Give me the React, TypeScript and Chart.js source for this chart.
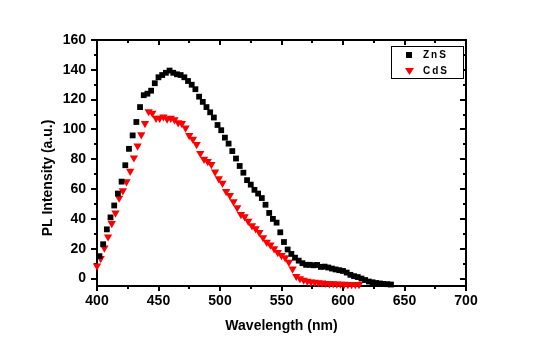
import React, { useEffect, useRef } from 'react';
import { Chart, registerables } from 'chart.js';

Chart.register(...registerables);

const seriesNames = ['ZnS', 'CdS'];
const xTitle = 'Wavelength (nm)';
const yTitle = 'PL Intensity (a.u.)';

const xTicks = [400, 450, 500, 550, 600, 650, 700];
const xMinorTicks = [425, 475, 525, 575, 625, 675];
const yTicks = [0, 20, 40, 60, 80, 100, 120, 140, 160];
const yMinorTicks = [10, 30, 50, 70, 90, 110, 130, 150];

const znsWavelength = [
  402, 405, 408, 411, 414, 417, 420, 423, 426, 429, 432, 435, 438, 441, 444, 447, 450, 453, 456, 459,
  462, 465, 468, 471, 474, 477, 480, 483, 486, 489, 492, 495, 498, 501, 504, 507, 510, 513, 516, 519,
  522, 525, 528, 531, 534, 537, 540, 543, 546, 549, 552, 555, 558, 561, 564, 567, 570, 573, 576, 579,
  582, 585, 588, 591, 594, 597, 600, 603, 606, 609, 612, 615, 618, 621, 624, 627, 630, 633, 636, 639,
];
const znsIntensity = [
  15, 23, 33, 41, 49, 57, 65, 76, 87, 96, 105, 115, 123, 124, 126, 131, 135, 136.5, 138, 139.5,
  138, 137, 136.5, 135, 132.5, 130, 127, 122, 118.5, 115, 111.5, 108, 103, 99.5, 94.5, 90.5, 85.5, 80.5, 75.5, 71,
  66, 63, 59.5, 57, 54, 49.5, 44, 40, 37.5, 31, 24.5, 19.5, 16.5, 14, 12, 10.3, 9.2, 9.2, 8.9, 9.1,
  7.8, 8, 7.4, 6.7, 6.1, 5.6, 5.1, 4, 2.5, 1.6, 1, 0, -1, -2, -2.5, -3, -3.3, -3.6, -3.8, -4,
];

const cdsWavelength = [
  400, 403, 406, 409, 412, 415, 418, 421, 424, 427, 430, 433, 436, 439, 442, 445, 448, 451, 454, 457,
  460, 463, 466, 469, 472, 475, 478, 481, 484, 487, 490, 493, 496, 499, 502, 505, 508, 511, 514, 517,
  520, 523, 526, 529, 532, 535, 538, 541, 544, 547, 550, 553, 556, 559, 562, 565, 568, 571, 574, 577,
  580, 583, 586, 589, 592, 595, 598, 601, 604, 607, 610, 613,
];
const cdsIntensity = [
  8.5, 13.5, 20.5, 28, 37, 44, 54, 59, 65, 72, 81, 89, 96.5, 104, 112, 111, 107.5, 107.5, 108.5, 107,
  107.5, 106.5, 104.5, 104, 101, 96, 93.5, 90, 84, 80, 78.5, 76.5, 71.5, 67, 64, 58.5, 55.8, 51.5, 47.5, 43,
  41.5, 38.5, 35.5, 33.5, 31, 27.5, 24.4, 22.5, 20, 17.5, 15.5, 14, 11, 6.5, 1.5, 0, -1, -1.8, -2.2, -2.5,
  -2.8, -3, -3.2, -3.4, -3.5, -3.6, -3.7, -3.8, -3.9, -4, -4, -4,
];

const FONT = '"Liberation Sans", Arial, sans-serif';

const framePlugin = {
  id: 'originFrame',
  beforeDatasetsDraw(chart: any) {
    const { ctx, chartArea } = chart;
    const { left, right, top, bottom } = chartArea;
    const x = chart.scales.x;
    const y = chart.scales.y;
    ctx.save();
    ctx.strokeStyle = '#000';
    ctx.lineWidth = 2;
    ctx.strokeRect(left, top, right - left, bottom - top);
    ctx.beginPath();
    const xt = (vals: number[], len: number) => {
      vals.forEach((v) => {
        const px = Math.round(x.getPixelForValue(v));
        ctx.moveTo(px, bottom);
        ctx.lineTo(px, bottom + len);
        ctx.moveTo(px, top);
        ctx.lineTo(px, top + len);
      });
    };
    const yt = (vals: number[], len: number) => {
      vals.forEach((v) => {
        const py = Math.round(y.getPixelForValue(v));
        ctx.moveTo(left, py);
        ctx.lineTo(left - len, py);
        ctx.moveTo(right, py);
        ctx.lineTo(right - len, py);
      });
    };
    xt(xTicks, 5);
    xt(xMinorTicks, 3);
    yt(yTicks, 6);
    yt(yMinorTicks, 3);
    ctx.stroke();

    // axis titles
    ctx.fillStyle = '#000';
    ctx.font = `bold 14px ${FONT}`;
    ctx.textAlign = 'center';
    ctx.textBaseline = 'middle';
    ctx.fillText(xTitle, (left + right) / 2, 326);
    ctx.translate(48, 178);
    ctx.rotate(-Math.PI / 2);
    ctx.fillText(yTitle, 0, 0);
    ctx.restore();
  },
  afterDatasetsDraw(chart: any) {
    const { ctx } = chart;
    ctx.save();
    ctx.fillStyle = '#fff';
    ctx.fillRect(391, 46, 73, 33);
    ctx.strokeStyle = '#000';
    ctx.lineWidth = 1;
    ctx.strokeRect(391.5, 46.5, 72, 32);
    // markers
    ctx.fillStyle = '#000';
    ctx.fillRect(406, 52, 6, 6);
    ctx.fillStyle = '#ff0000';
    ctx.beginPath();
    ctx.moveTo(405, 68);
    ctx.lineTo(414, 68);
    ctx.lineTo(409.5, 75);
    ctx.closePath();
    ctx.fill();
    // labels
    ctx.fillStyle = '#000';
    ctx.font = `bold 10px ${FONT}`;
    (ctx as any).letterSpacing = '2px';
    ctx.textAlign = 'left';
    ctx.textBaseline = 'middle';
    ctx.fillText(seriesNames[0], 423, 55.5);
    ctx.fillText(seriesNames[1], 423, 71.5);
    ctx.restore();
  },
};

export default function App() {
  const ref = useRef<HTMLCanvasElement>(null);
  useEffect(() => {
    if (!ref.current) return;
    const tickFont = { family: FONT, weight: 'bold' as const, size: 14 };
    const chart = new Chart(ref.current, {
      type: 'scatter',
      data: {
        datasets: [
          {
            label: seriesNames[0],
            data: znsWavelength.map((w, i) => ({ x: w, y: znsIntensity[i] })),
            pointStyle: 'rect',
            pointRadius: 4.1,
            pointHoverRadius: 4.1,
            backgroundColor: '#000',
            borderColor: '#000',
            borderWidth: 0,
            clip: false as any,
          },
          {
            label: seriesNames[1],
            data: cdsWavelength.map((w, i) => ({ x: w, y: cdsIntensity[i] })),
            pointStyle: 'triangle',
            pointRotation: 180,
            pointRadius: 4.8,
            pointHoverRadius: 4.8,
            backgroundColor: '#ff0000',
            borderColor: '#ff0000',
            borderWidth: 0,
            clip: false as any,
          },
        ],
      },
      options: {
        animation: false,
        responsive: false,
        devicePixelRatio: 1,
        layout: { padding: { left: 0, top: 40, right: 76, bottom: 0 } },
        plugins: {
          legend: { display: false },
          tooltip: { enabled: false },
        },
        scales: {
          x: {
            type: 'linear',
            min: 400,
            max: 700,
            grid: { display: false, drawTicks: false },
            border: { display: false },
            afterBuildTicks: (s: any) => {
              s.ticks = xTicks.map((v) => ({ value: v }));
            },
            afterFit: (s: any) => {
              s.height = 70;
            },
            ticks: {
              font: tickFont,
              color: '#000',
              padding: 7,
              maxRotation: 0,
              autoSkip: false,
            },
          },
          y: {
            type: 'linear',
            min: -5,
            max: 160,
            grid: { display: false, drawTicks: false },
            border: { display: false },
            afterBuildTicks: (s: any) => {
              s.ticks = yTicks.map((v) => ({ value: v }));
            },
            afterFit: (s: any) => {
              s.width = 97;
            },
            ticks: {
              font: tickFont,
              color: '#000',
              padding: 11,
              autoSkip: false,
            },
          },
        },
      },
      plugins: [framePlugin],
    });
    return () => chart.destroy();
  }, []);
  return (
    <div style={{ position: 'absolute', left: 0, top: 0, width: 542, height: 356, background: '#fff' }}>
      <canvas ref={ref} width={542} height={356} style={{ display: 'block', width: 542, height: 356 }} />
    </div>
  );
}
